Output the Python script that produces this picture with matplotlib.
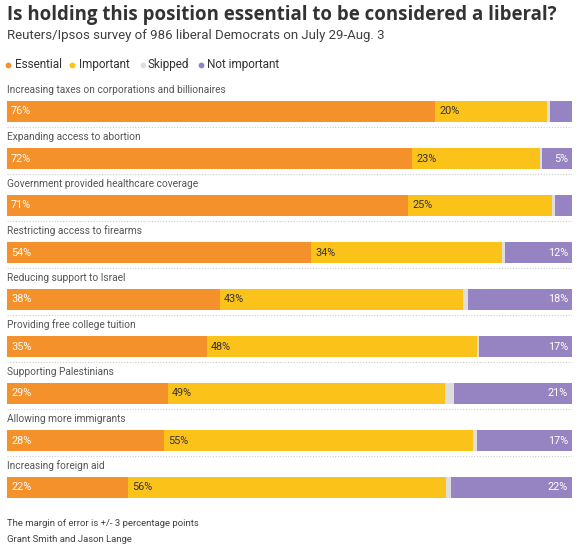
import matplotlib
matplotlib.use("Agg")
import matplotlib.pyplot as plt
from matplotlib.lines import Line2D

categories = [
    "Increasing taxes on corporations and billionaires",
    "Expanding access to abortion",
    "Government provided healthcare coverage",
    "Restricting access to firearms",
    "Reducing support to Israel",
    "Providing free college tuition",
    "Supporting Palestinians",
    "Allowing more immigrants",
    "Increasing foreign aid",
]
essential = [75.8, 71.7, 71.0, 53.8, 37.7, 35.4, 28.5, 27.8, 21.4]
important = [19.7, 22.6, 25.5, 33.8, 43.0, 47.8, 49.0, 54.7, 56.3]
skipped = [0.6, 0.4, 0.5, 0.5, 0.9, 0.3, 1.6, 0.7, 0.9]
not_important = [3.9, 5.3, 3.0, 11.9, 18.4, 16.5, 20.9, 16.8, 21.4]

ess_labels = ["76%", "72%", "71%", "54%", "38%", "35%", "29%", "28%", "22%"]
imp_labels = ["20%", "23%", "25%", "34%", "43%", "48%", "49%", "55%", "56%"]
not_labels = ["", "5%", "", "12%", "18%", "17%", "21%", "17%", "22%"]

series_names = ["Essential", "Important", "Skipped", "Not important"]
colors = ["#F4912A", "#FBC21A", "#DEDEDE", "#9683C1"]

title = "Is holding this position essential to be considered a liberal?"
subtitle = "Reuters/Ipsos survey of 986 liberal Democrats on July 29-Aug. 3"
note = "The margin of error is +/- 3 percentage points"
credit = "Grant Smith and Jason Lange"

FONT = "Roboto"
plt.rcParams["font.family"] = [FONT, "DejaVu Sans"]

W, H = 588, 555
fig = plt.figure(figsize=(W / 100, H / 100), dpi=100)

def fx(px):
    return px / W

def fy(py):
    return 1 - py / H

# axes for bars
left_px, right_px = 7, 572
top_px, bot_px = 80, 510
pitch = 47.0
center0 = 111.5
ax = fig.add_axes([fx(left_px), fy(bot_px), (right_px - left_px) / W, (bot_px - top_px) / H])
ax.set_xlim(0, 100)
ax.set_ylim((bot_px - center0) / pitch, (top_px - center0) / pitch)
ax.axis("off")

bar_h = 21 / pitch
n = len(categories)
ys = list(range(n))
lefts = [0.0] * n
for vals, c in zip([essential, important, skipped, not_important], colors):
    ax.barh(ys, vals, left=lefts, height=bar_h, color=c, linewidth=0)
    lefts = [a + b for a, b in zip(lefts, vals)]

pad = 4 * 72 / 100  # 4px in points
lab_fs = 7.8
for i in range(n):
    ax.text(0, i - 21.5 / pitch, categories[i], fontsize=7.3, color="#555555",
            va="center", ha="left")
    ax.annotate(ess_labels[i], (0, i), xytext=(pad, 0), textcoords="offset points",
                va="center", ha="left", fontsize=lab_fs, color="white")
    ax.annotate(imp_labels[i], (essential[i], i), xytext=(pad, 0), textcoords="offset points",
                va="center", ha="left", fontsize=lab_fs, color="#333333")
    if not_labels[i]:
        total = essential[i] + important[i] + skipped[i] + not_important[i]
        ax.annotate(not_labels[i], (total, i), xytext=(-pad, 0), textcoords="offset points",
                    va="center", ha="right", fontsize=lab_fs, color="white")
    if i < n - 1:
        ax.plot([0, 100], [i + 15.5 / pitch] * 2, color="#CCCCCC", lw=0.8,
                linestyle=(0, (1, 1.5)), solid_capstyle="butt")

# title and subtitle
fig.text(fx(7), fy(15), title, fontsize=13.4, fontweight="bold", color="#333333",
         va="center", ha="left", family=["Open Sans", "DejaVu Sans"])
fig.text(fx(7), fy(36), subtitle, fontsize=9.5, color="#404040", va="center", ha="left")

# legend
leg_y = fy(64.5)
dot_x = [8, 72, 143, 201]
txt_x = [15, 79, 148, 207]
for name, c, dx, tx in zip(series_names, colors, dot_x, txt_x):
    fig.lines.append(Line2D([fx(dx)], [leg_y], marker="o", markersize=4.2, color=c,
                            markeredgewidth=0, transform=fig.transFigure))
    fig.text(fx(tx), leg_y, name, fontsize=8.5, color="#333333", va="center", ha="left")

# footer
fig.text(fx(7), fy(523), note, fontsize=6.8, color="#404040", va="center", ha="left")
fig.text(fx(7), fy(540), credit, fontsize=6.8, color="#404040", va="center", ha="left")

fig.savefig("out.png", dpi=100)
